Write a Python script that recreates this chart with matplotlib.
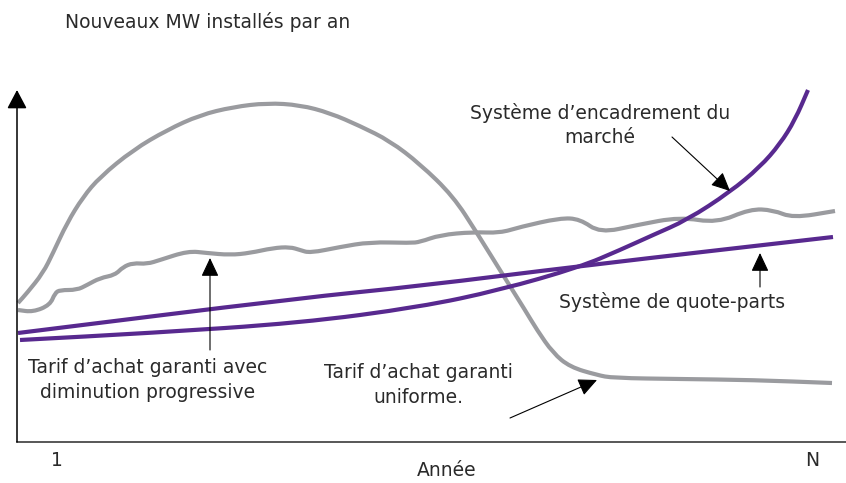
"""Schematic: new MW installed per year under different support schemes."""
import numpy as np
import matplotlib.pyplot as plt
import matplotlib as mpl
from matplotlib.path import Path
from matplotlib.patches import PathPatch

mpl.rcParams.update({"font.family": "DejaVu Sans", "font.size": 13.5})

GREY = "#9a9b9f"
PURPLE = "#58298f"
INK = "#2a2a2a"

# x = year axis position, y = height above the time axis
x_uniforme = [18, 27, 43, 53, 67, 83, 100, 133, 167, 200, 233, 267, 300, 330,
              360, 390, 420, 453, 477, 503, 525, 537, 553, 570, 597, 613, 680,
              753, 832]
y_uniforme = [139, 149, 169, 189, 219, 245, 265, 292, 312, 327, 335, 339, 337,
              329, 316, 301, 278, 246, 209, 167, 132, 112, 89, 75, 67, 64, 63,
              62, 59]

x_degressif = [18, 33, 50, 55, 60, 77, 87, 100, 115, 123, 133, 147, 160, 188,
               207, 230, 250, 273, 290, 300, 310, 340, 370, 410, 420, 440, 473,
               500, 520, 560, 580, 600, 637, 680, 717, 750, 773, 793, 835]
y_degressif = [132, 130, 137, 149, 152, 152, 157, 164, 167, 175, 179, 178, 182,
               191, 189, 187, 189, 194, 195, 192, 189, 195, 200, 199, 200, 207,
               210, 209, 215, 224, 223, 209, 217, 225, 219, 233, 232, 224, 231]

x_quota = [18, 300, 420, 580, 833]
y_quota = [109, 144, 156, 176, 205]

x_marche = [20, 150, 300, 420, 500, 580, 620, 653, 687, 730, 760, 780, 795, 808]
y_marche = [102, 109, 119, 135, 152, 175, 192, 207, 222, 250, 275, 298, 322, 352]


def smooth_path(x, y):
    """Quadratic Bezier through segment midpoints (rounds off the corners)."""
    pts = np.column_stack([x, y]).astype(float)
    if len(pts) < 3:
        return Path(pts)
    mids = (pts[:-1] + pts[1:]) / 2
    verts = [pts[0], mids[0]]
    codes = [Path.MOVETO, Path.LINETO]
    for i in range(1, len(pts) - 1):
        verts += [pts[i], mids[i]]
        codes += [Path.CURVE3, Path.CURVE3]
    verts.append(pts[-1])
    codes.append(Path.LINETO)
    return Path(verts, codes)


fig = plt.figure(figsize=(8.46, 4.83), dpi=100)
ax = fig.add_axes([0, 0, 1, 1])
ax.set_xlim(0, 846)
ax.set_ylim(-41, 442)
ax.axis("off")

for xs, ys, col in [(x_uniforme, y_uniforme, GREY),
                    (x_degressif, y_degressif, GREY),
                    (x_quota, y_quota, PURPLE),
                    (x_marche, y_marche, PURPLE)]:
    ax.add_patch(PathPatch(smooth_path(xs, ys), fill=False, edgecolor=col,
                           lw=3.0, capstyle="butt", joinstyle="round"))

# axes
ax.plot([17, 846], [0, 0], color=INK, lw=1.1)
ax.annotate("", xy=(17, 352), xytext=(17, 0),
            arrowprops=dict(arrowstyle="-|>,head_length=0.85,head_width=0.45",
                            color="black", lw=1.1, shrinkA=0, shrinkB=0))

arrow = dict(arrowstyle="-|>,head_length=0.85,head_width=0.4",
             color="black", lw=0.8, shrinkA=0, shrinkB=0)
ax.annotate("", xy=(730, 251), xytext=(672, 305), arrowprops=arrow)
ax.annotate("", xy=(760, 189), xytext=(760, 155), arrowprops=arrow)
ax.annotate("", xy=(210, 184), xytext=(210, 92), arrowprops=arrow)
ax.annotate("", xy=(597, 62), xytext=(510, 24), arrowprops=arrow)

txt = dict(color=INK, ha="center", va="center", linespacing=1.35)
ax.text(208, 420, "Nouveaux MW installés par an", **txt)
ax.text(600, 317, "Système d’encadrement du\nmarché", **txt)
ax.text(672, 140, "Système de quote-parts", **txt)
ax.text(148, 62, "Tarif d’achat garanti avec\ndiminution progressive", **txt)
ax.text(418, 57, "Tarif d’achat garanti\nuniforme.", **txt)
ax.text(57, -18, "1", **txt)
ax.text(812, -18, "N", **txt)
ax.text(447, -28, "Année", **txt)

fig.savefig("out.png", dpi=100, facecolor="white")
